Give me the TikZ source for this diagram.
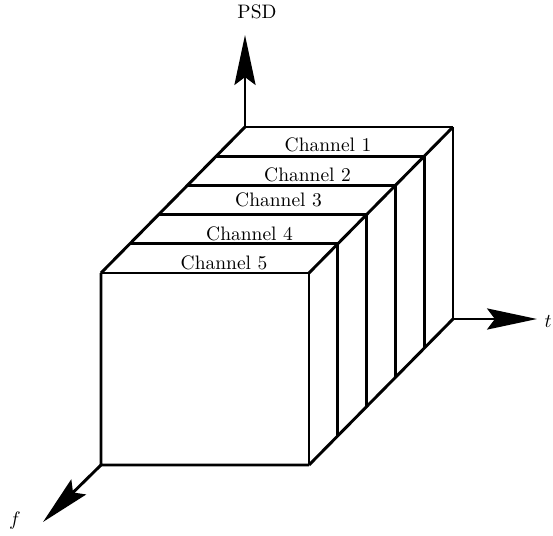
\documentclass[tikz,border=0pt]{standalone}
\usetikzlibrary{arrows.meta}
\begin{document}
\begin{tikzpicture}[x=0.513pt,y=-0.513pt,
  edge/.style={line width=1.5pt},
  axis/.style={line width=1.5pt,-{Stealth[length=25.6pt,width=10.8pt,inset=4pt]}},
  lbl/.style={inner sep=0pt,font=\fontsize{10}{12}\selectfont}]
\useasboundingbox (0,0) rectangle (553,536);
% corners of the slices
\foreach \k in {0,...,5}{
  \coordinate (tl\k) at ({245-28.8*\k},{127+29.2*\k});
  \coordinate (tr\k) at ({453-28.8*\k},{127+29.2*\k});
  \coordinate (br\k) at ({453-28.8*\k},{319+29.2*\k});
}
\coordinate (bl5) at (101,465);
% axes
\coordinate (psdtip) at (245,35);
\coordinate (ttip) at (537,319);
\coordinate (ftip) at (43,522);
\draw[axis] (tl0) -- (psdtip);
\draw[axis] (br0) -- (ttip);
\draw[axis] (bl5) -- (ftip);
% box
\foreach \k in {0,...,5}{
  \draw[edge] (tl\k) -- (tr\k);
  \draw[edge] (tr\k) -- (br\k);
}
\draw[edge] (tl0) -- (tl5);
\draw[edge] (tr0) -- (tr5);
\draw[edge] (br0) -- (br5);
\draw[edge] (tl5) -- (bl5) -- (br5);
% labels
\node[lbl] (c1) at (328,145) {Channel 1};
\node[lbl] (c2) at (307.5,174.5) {Channel 2};
\node[lbl] (c3) at (278.5,200) {Channel 3};
\node[lbl] (c4) at (249.5,234) {Channel 4};
\node[lbl] (c5) at (224,262.5) {Channel 5};
\node[lbl] (psd) at (257,12) {PSD};
\node[lbl,anchor=east] (t) at (552,322) {$t$};
\node[lbl] (f) at (15,521) {$f$};
\end{tikzpicture}
\end{document}
